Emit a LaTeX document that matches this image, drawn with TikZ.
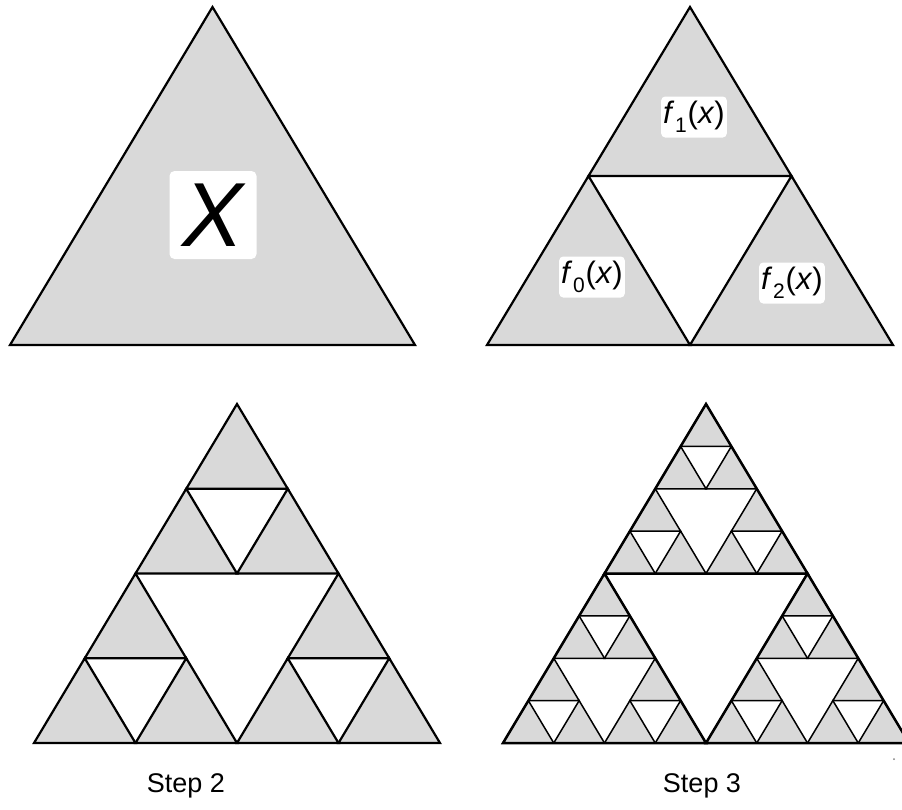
\documentclass[tikz,border=0pt]{standalone}
\usepackage{fontspec}
\setmainfont{Liberation Sans}
\definecolor{tgray}{RGB}{217,217,217}
\newcommand\sierpinski[7]{%
  \foreach \i/\j in {#6} {%
    \pgfmathsetmacro\xa{#1+\i*#3/#5+\j*#3/(2*#5)}%
    \pgfmathsetmacro\ya{#2-\j*#4/#5}%
    \path[#7] (\xa,\ya) -- ++({#3/#5},0) -- ++({-#3/(2*#5)},{-#4/#5}) -- cycle;
  }}
\newcommand\fsub[1]{\textit{f}\kern0.02em\raisebox{-0.28em}{\fontsize{21}{22}\selectfont #1}\kern0.03em(\textit{x})}
\begin{document}
\begin{tikzpicture}[x=1pt,y=-1pt,
  gtri/.style={fill=tgray,draw=black,line width=2.2pt,line join=miter},
  ftri/.style={fill=tgray,draw=black,line width=1.5pt,line join=miter},
  otri/.style={draw=black,line width=2.5pt,line join=miter},
  lbl/.style={fill=white,rounded corners=4pt,inner xsep=2pt,minimum width=60pt,minimum height=41pt,
    font=\fontsize{31}{33}\selectfont},
  steplbl/.style={font=\fontsize{27}{30}\selectfont}]
\useasboundingbox (0,0) rectangle (902,809);
\fill[white] (0,0) rectangle (902,809);
\clip (0,0) rectangle (902,809);
% top-left: X
\sierpinski{10}{345}{405}{338}{1}{0/0}{gtri}
\node[fill=white,rounded corners=5pt,minimum width=87pt,minimum height=88pt,inner sep=0pt,
  font=\fontsize{91}{96}\selectfont\itshape] (X) at (213,215) {X};
% top-right: step 1
\sierpinski{487}{345}{406}{338}{2}{0/0,1/0,0/1}{gtri}
\node[lbl] (f1) at (694,117) {\fsub{1}};
\node[lbl] (f0) at (592,277) {\fsub{0}};
\node[lbl] (f2) at (792,283) {\fsub{2}};
% bottom-left: step 2
\sierpinski{34}{743}{406}{339}{4}{0/0,1/0,2/0,3/0,0/1,2/1,0/2,1/2,0/3}{gtri}
% bottom-right: step 3
\sierpinski{503}{743}{406}{339}{8}{0/0,1/0,2/0,3/0,4/0,5/0,6/0,7/0,0/1,2/1,4/1,6/1,0/2,1/2,4/2,5/2,0/3,4/3,0/4,1/4,2/4,3/4,0/5,2/5,0/6,1/6,0/7}{ftri}
\sierpinski{503}{743}{406}{339}{2}{0/0,1/0,0/1}{otri}
\node[steplbl] (s2) at (186,786) {Step 2};
\node[steplbl] (s3) at (702,786) {Step 3};
\fill[gray] (894,759) circle (1pt);
\end{tikzpicture}
\end{document}
